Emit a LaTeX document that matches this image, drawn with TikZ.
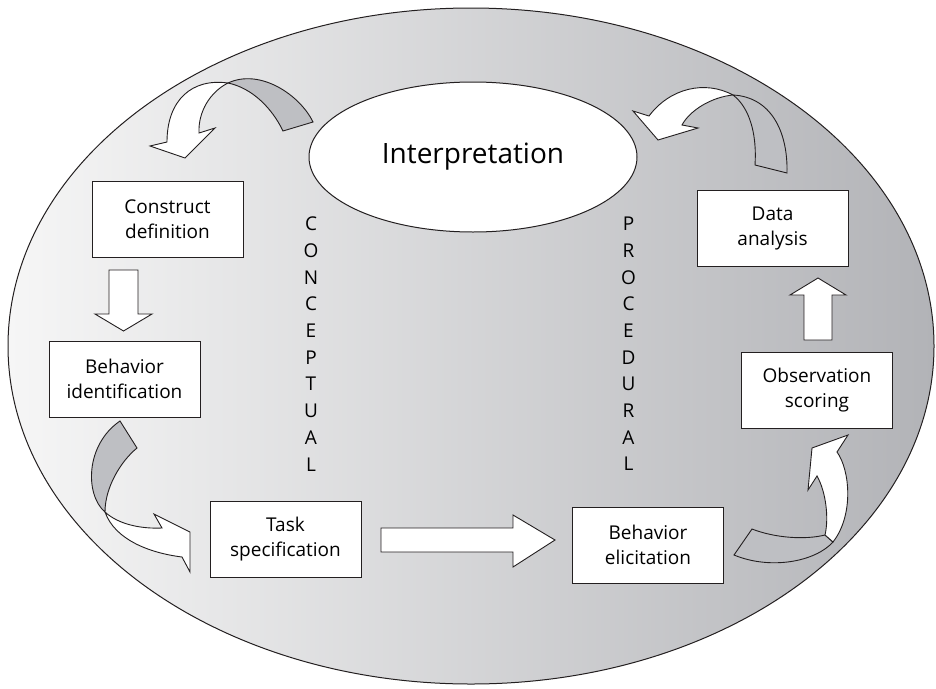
\documentclass[tikz,border=0pt]{standalone}
\usepackage{fontspec}
\setmainfont{Open Sans}
\usetikzlibrary{shapes.geometric}
\definecolor{bandgrey}{RGB}{190,191,195}
\definecolor{shadeleft}{RGB}{246,246,246}
\definecolor{shaderight}{RGB}{178,179,183}
\definecolor{ink}{RGB}{35,31,32}
\begin{document}
\begin{tikzpicture}[x=1pt,y=-1pt,
  stage/.style={draw=ink, line width=0.9pt, fill=white, minimum width=151pt,
    minimum height=76pt, align=center, inner sep=0pt,
    font=\fontsize{19}{25}\selectfont},
  blockarrow/.style={draw=ink, line width=0.9pt, fill=white, line join=miter},
  ribbonback/.style={draw=ink, line width=0.9pt, fill=bandgrey, line join=miter},
  ribbonfront/.style={draw=ink, line width=0.9pt, fill=white, line join=miter},
  column/.style={align=center, inner sep=0pt, font=\fontsize{19}{26.7}\selectfont}]
\useasboundingbox (0,0) rectangle (936,688);

% outer field
\path[left color=shadeleft, right color=shaderight] (471,346) ellipse [x radius=463, y radius=338];
\draw[ink, line width=1pt] (471,346) ellipse [x radius=463, y radius=338];

% curved ribbon arrow: interpretation -> construct definition
\draw[ribbonback] (228,83) .. controls (260,68) and (300,95) .. (313,122)
  -- (283,131) .. controls (272,108) and (252,88) .. (228,83) -- cycle;
\draw[ribbonfront] (228,83) .. controls (192,78) and (167,100) .. (167,142)
  -- (150,146) -- (185,158) -- (215,128) -- (199,133)
  .. controls (198,112) and (210,92) .. (228,83) -- cycle;

% curved ribbon arrow: data analysis -> interpretation
\draw[ribbonback] (733,95) .. controls (770,97) and (788,130) .. (787,173)
  -- (755,165) .. controls (757,135) and (750,108) .. (733,95) -- cycle;
\draw[ribbonfront] (733,95) .. controls (705,80) and (670,88) .. (649,116)
  -- (633,111) -- (658,140) -- (698,128) -- (682,125)
  .. controls (690,110) and (712,97) .. (733,95) -- cycle;

% curved ribbon arrow: behavior identification -> task specification
\draw[ribbonback] (105,512) .. controls (85,495) and (85,445) .. (120,421)
  -- (137,448) .. controls (120,462) and (105,488) .. (105,512) -- cycle;
\draw[ribbonfront] (105,512) .. controls (118,524) and (140,529) .. (162,528)
  -- (154,514) -- (190,532) -- (190,572) -- (182,557)
  .. controls (150,553) and (115,540) .. (105,512) -- cycle;

% curved ribbon arrow: behavior elicitation -> observation scoring
\draw[ribbonback] (752,529) .. controls (775,538) and (805,540) .. (825,535)
  -- (833,542) .. controls (815,562) and (770,570) .. (734,555) -- cycle;
\draw[ribbonfront] (825,535) .. controls (829,518) and (826,492) .. (817,476)
  -- (808,490) -- (812,448) -- (848,435) -- (837,452)
  .. controls (850,470) and (854,515) .. (833,542) -- cycle;

% central interpretation
\node[ellipse, draw=ink, line width=1pt, fill=white, minimum width=328pt,
  minimum height=150pt, inner sep=0pt, font=\fontsize{28}{32}\selectfont]
  (interp) at (473,157) {Interpretation};

% stages
\node[stage] (cd) at (167.5,219) {Construct\\definition};
\node[stage] (bi) at (124.5,379) {Behavior\\identification};
\node[stage] (ts) at (285.5,539.5) {Task\\specification};
\node[stage] (be) at (648,545) {Behavior\\elicitation};
\node[stage] (os) at (817,390.5) {Observation\\scoring};
\node[stage] (da) at (772.5,228.5) {Data\\analysis};

% straight block arrows
\draw[blockarrow] (109,270) -- (138,270) -- (138,314) -- (152,314)
  -- (123.5,331) -- (95,314) -- (109,314) -- cycle;
\draw[blockarrow] (381,528) -- (513,528) -- (513,515) -- (555,540)
  -- (513,567) -- (513,552) -- (381,552) -- cycle;
\draw[blockarrow] (804,340) -- (804,295) -- (790,295) -- (818,278)
  -- (846,295) -- (832,295) -- (832,340) -- cycle;

% vertical labels
\node[column] (conc) at (311,344) {C\\O\\N\\C\\E\\P\\T\\U\\A\\L};
\node[column] (proc) at (628.5,344) {P\\R\\O\\C\\E\\D\\U\\R\\A\\L};
\end{tikzpicture}
\end{document}
